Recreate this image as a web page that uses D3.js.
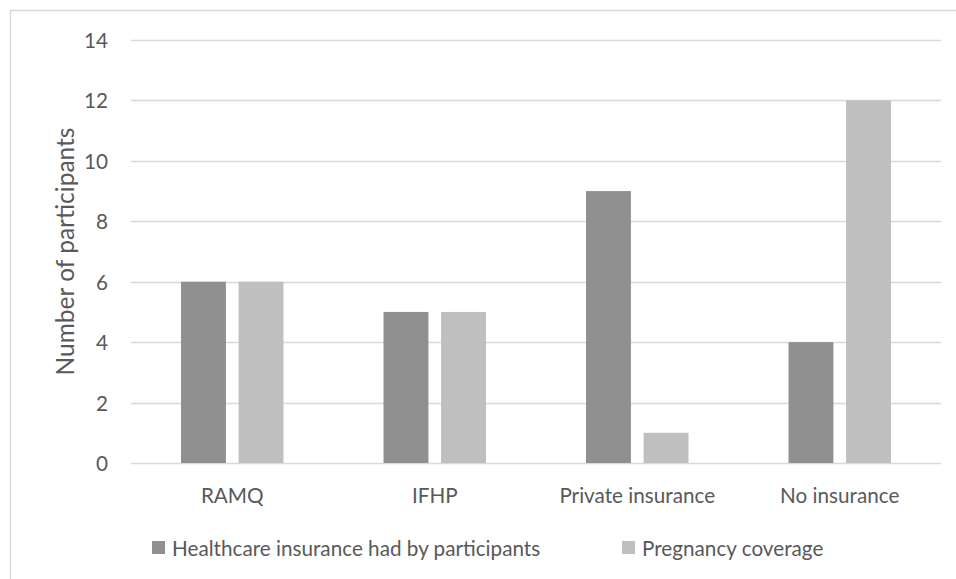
<!DOCTYPE html>
<html>
<head>
<meta charset="utf-8">
<script src="https://cdn.jsdelivr.net/npm/d3@7"></script>
<style>
  body { margin: 0; background: #fff; }
  svg { display: block; }
  text { font-family: Lato, "Open Sans", sans-serif; fill: #595959; }
</style>
</head>
<body>
<div id="chart"></div>
<script>
var categories = ["RAMQ", "IFHP", "Private insurance", "No insurance"];
var seriesNames = ["Healthcare insurance had by participants", "Pregnancy coverage"];
var insuranceHad = [6, 5, 9, 4];
var pregnancyCoverage = [6, 5, 1, 12];
var yTicks = [0, 2, 4, 6, 8, 10, 12, 14];

var colors = ["#909090", "#bfbfbf"];

var width = 956,
    height = 579;
var plot = {left: 131, right: 941, top: 40, bottom: 463};
var fontSize = "20.7px";

var svg = d3.select("#chart")
    .append("svg")
        .attr("width", width)
        .attr("height", height);

// outer chart frame (runs off the right and bottom edge)
svg.append("rect")
    .attr("x", 10.5)
    .attr("y", 10.5)
    .attr("width", 960)
    .attr("height", 600)
    .attr("fill", "none")
    .attr("stroke", "#d9d9d9")
    .attr("stroke-width", 1.5);

var y = d3.scaleLinear()
    .domain([0, 14])
    .range([plot.bottom, plot.top]);

var x0 = d3.scaleBand()
    .domain(categories)
    .range([plot.left, plot.right])
    .paddingInner(0.494)
    .paddingOuter(0.247);

var x1 = d3.scaleBand()
    .domain(seriesNames)
    .range([0, x0.bandwidth()])
    .paddingInner(0.22);

// gridlines
svg.append("g")
    .selectAll("line")
    .data(yTicks)
    .enter()
    .append("line")
        .attr("x1", plot.left)
        .attr("x2", plot.right)
        .attr("y1", d => Math.round(y(d)) + 0.5)
        .attr("y2", d => Math.round(y(d)) + 0.5)
        .attr("stroke", "#d9d9d9")
        .attr("stroke-width", 1.5);

// y tick labels
svg.append("g")
    .selectAll("text")
    .data(yTicks)
    .enter()
    .append("text")
        .text(d => d)
        .attr("x", 108)
        .attr("y", d => y(d))
        .attr("text-anchor", "end")
        .attr("dominant-baseline", "central")
        .attr("font-size", fontSize);

var rows = categories.map((c, i) => ({cat: c, values: [insuranceHad[i], pregnancyCoverage[i]]}));

// bars
var groups = svg.append("g")
    .selectAll("g")
    .data(rows)
    .enter()
    .append("g")
        .attr("transform", d => "translate(" + x0(d.cat) + ",0)");

groups.selectAll("rect")
    .data(d => d.values.map((v, j) => ({series: seriesNames[j], value: v, idx: j})))
    .enter()
    .append("rect")
        .attr("x", d => x1(d.series))
        .attr("y", d => y(d.value))
        .attr("width", x1.bandwidth())
        .attr("height", d => y(0) - y(d.value))
        .attr("fill", d => colors[d.idx]);

// category labels
svg.append("g")
    .selectAll("text")
    .data(categories)
    .enter()
    .append("text")
        .text(d => d)
        .attr("x", d => x0(d) + x0.bandwidth() / 2)
        .attr("y", 495)
        .attr("text-anchor", "middle")
        .attr("dominant-baseline", "central")
        .attr("font-size", fontSize);

// y axis title
svg.append("text")
    .text("Number of participants")
    .attr("transform", "translate(64," + (plot.top + plot.bottom) / 2 + ") rotate(-90)")
    .attr("text-anchor", "middle")
    .attr("dominant-baseline", "central")
    .attr("font-size", "24.5px");

// legend
var legendX = [152, 622];
var legend = svg.append("g")
    .selectAll("g")
    .data(seriesNames)
    .enter()
    .append("g")
        .attr("transform", (d, i) => "translate(" + legendX[i] + ",541)");

legend.append("rect")
    .attr("width", 13)
    .attr("height", 13)
    .attr("fill", (d, i) => colors[i]);

legend.append("text")
    .text(d => d)
    .attr("x", 20)
    .attr("y", 7)
    .attr("dominant-baseline", "central")
    .attr("font-size", fontSize);
</script>
</body>
</html>
